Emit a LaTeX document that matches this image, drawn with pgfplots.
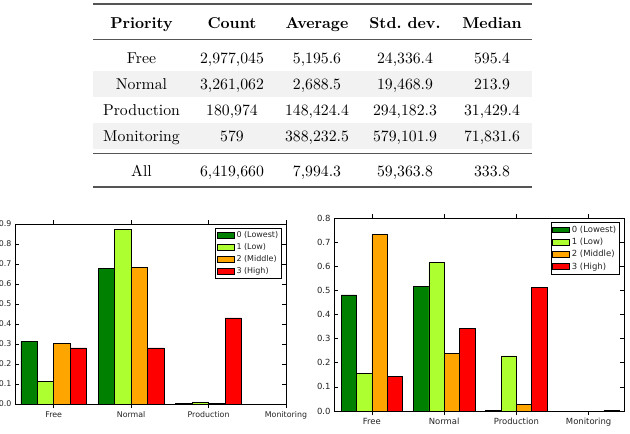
\documentclass[border=0pt]{standalone}
\usepackage{pgfplots}
\usepackage{pgfplotstable}
\pgfplotsset{compat=1.18}
\usepackage{fontspec}
\newfontfamily\dejavu{DejaVu Sans}
\definecolor{cg0}{HTML}{008000}
\definecolor{cg1}{HTML}{ADFF2F}
\definecolor{cg2}{HTML}{FFA500}
\definecolor{cg3}{HTML}{FF0000}
\definecolor{rowgray}{HTML}{F2F2F2}
\definecolor{rulegray}{HTML}{555555}
\definecolor{tickgray}{HTML}{222222}

\pgfplotstableread{
x p0 p1 p2 p3
0 0.313 0.113 0.304 0.281
1 0.679 0.873 0.684 0.281
2 0.002 0.008 0.004 0.431
3 0 0 0 0
}\dataA
\pgfplotstableread{
x p0 p1 p2 p3
0 0.481 0.156 0.732 0.142
1 0.517 0.615 0.239 0.342
2 0.002 0.228 0.028 0.512
3 0 0 0 0.003
}\dataB

\pgfplotsset{
 barchart/.style={
  scale only axis, ybar, bar width=0.2125, ymin=0,
  xtick={0,1,2,3}, xticklabels={Free,Normal,Production,Monitoring},
  /pgf/number format/assume math mode=true,
  yticklabel style={/pgf/number format/fixed, /pgf/number format/precision=1, /pgf/number format/fixed zerofill},
  ticklabel style={text=tickgray},
  major tick length=4bp,
  axis line style={line width=0.8bp},
  every tick/.style={black, line width=0.6bp},
  legend cell align=left,
  legend image code/.code={\draw[##1,draw=black,line width=0.6bp] (0bp,-2.9bp) rectangle (17bp,2.9bp);},
  legend style={at={(1,1)}, anchor=north east, xshift=-4bp, yshift=-4bp,
     draw=black, line width=0.6bp, inner sep=1.5bp, row sep=0.4bp, text=tickgray},
 },
}
\newcommand{\tc}[3]{\node[anchor=base, scale=1.58, inner sep=0pt] at (#1bp,{(434-#2)*1bp}) {#3};}

\begin{document}
\begin{tikzpicture}
\useasboundingbox (0bp,0bp) rectangle (630bp,434bp);
% table
\fill[rowgray] (93bp,363bp) rectangle (532bp,337bp);
\fill[rowgray] (93bp,311bp) rectangle (532bp,285bp);
\draw[rulegray, line width=1.3bp] (93bp,430bp) -- (532bp,430bp);
\draw[rulegray, line width=0.8bp] (93bp,395bp) -- (532bp,395bp);
\draw[rulegray, line width=0.8bp] (93bp,281bp) -- (532bp,281bp);
\draw[rulegray, line width=1.3bp] (93bp,247bp) -- (532bp,247bp);
\tc{141.5}{28.3}{\bfseries Priority}
\tc{232}{28.3}{\bfseries Count}
\tc{317}{28.3}{\bfseries Average}
\tc{405}{28.3}{\bfseries Std.\ dev.}
\tc{492}{28.3}{\bfseries Median}
\tc{141.5}{63.3}{Free}
\tc{232}{63.3}{2,977,045}
\tc{317}{63.3}{5,195.6}
\tc{405}{63.3}{24,336.4}
\tc{492}{63.3}{595.4}
\tc{141.5}{89.3}{Normal}
\tc{232}{89.3}{3,261,062}
\tc{317}{89.3}{2,688.5}
\tc{405}{89.3}{19,468.9}
\tc{492}{89.3}{213.9}
\tc{141.5}{115.7}{Production}
\tc{232}{115.7}{180,974}
\tc{317}{115.7}{148,424.4}
\tc{405}{115.7}{294,182.3}
\tc{492}{115.7}{31,429.4}
\tc{141.5}{141.7}{Monitoring}
\tc{232}{141.7}{579}
\tc{317}{141.7}{388,232.5}
\tc{405}{141.7}{579,101.9}
\tc{492}{141.7}{71,831.6}
\tc{141.5}{176.7}{All}
\tc{232}{176.7}{6,419,660}
\tc{317}{176.7}{7,994.3}
\tc{405}{176.7}{59,363.8}
\tc{492}{176.7}{333.8}
% left chart
\begin{axis}[barchart, at={(15bp,30bp)}, anchor=south west, width=271bp, height=180bp,
  xmin=-0.5, xmax=3, ymax=0.9, ytick={0,0.1,...,0.9},
  ticklabel style={font=\dejavu\fontsize{7.9}{9}\selectfont},
  legend style={nodes={font=\dejavu\fontsize{8}{9.5}\selectfont}}]
\addplot[fill=cg0, draw=black, line width=0.5bp, bar shift=-0.31875] table[x=x,y=p0] {\dataA};
\addplot[fill=cg1, draw=black, line width=0.5bp, bar shift=-0.10625] table[x=x,y=p1] {\dataA};
\addplot[fill=cg2, draw=black, line width=0.5bp, bar shift=0.10625] table[x=x,y=p2] {\dataA};
\addplot[fill=cg3, draw=black, line width=0.5bp, bar shift=0.31875] table[x=x,y=p3] {\dataA};
\legend{0 (Lowest),1 (Low),2 (Middle),3 (High)}
\end{axis}
% right chart
\begin{axis}[barchart, at={(334bp,23bp)}, anchor=south west, width=290bp, height=193bp,
  xmin=-0.525, xmax=3.49, ymax=0.8, ytick={0,0.1,...,0.8},
  ticklabel style={font=\dejavu\fontsize{8.5}{10}\selectfont},
  legend style={nodes={font=\dejavu\fontsize{8.5}{10}\selectfont}}]
\addplot[fill=cg0, draw=black, line width=0.5bp, bar shift=-0.31875] table[x=x,y=p0] {\dataB};
\addplot[fill=cg1, draw=black, line width=0.5bp, bar shift=-0.10625] table[x=x,y=p1] {\dataB};
\addplot[fill=cg2, draw=black, line width=0.5bp, bar shift=0.10625] table[x=x,y=p2] {\dataB};
\addplot[fill=cg3, draw=black, line width=0.5bp, bar shift=0.31875] table[x=x,y=p3] {\dataB};
\legend{0 (Lowest),1 (Low),2 (Middle),3 (High)}
\end{axis}
\end{tikzpicture}
\end{document}
